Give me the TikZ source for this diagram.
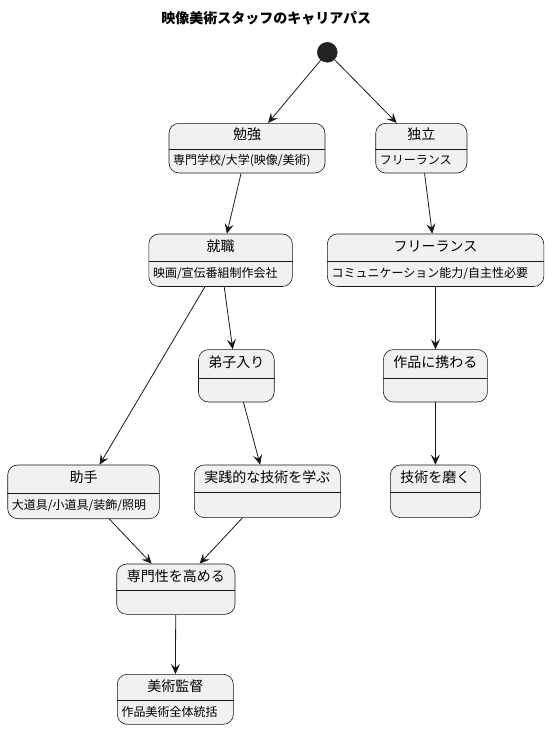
\documentclass[tikz,border=0pt]{standalone}
\usepackage{fontspec}
\setmainfont{Noto Sans CJK JP}
\usetikzlibrary{arrows.meta,fit}
\definecolor{stfill}{HTML}{F1F1F1}
\definecolor{stline}{HTML}{181818}
\definecolor{initfill}{HTML}{222222}
\tikzset{
 stbox/.style={draw=stline, fill=stfill, line width=0.6pt, rounded corners=10pt, inner sep=0pt},
 sttitle/.style={font=\fontsize{14}{16}\selectfont, inner sep=0pt, text height=0.88em, text depth=0.12em},
 stdesc/.style={font=\fontsize{12}{14}\selectfont, inner sep=0pt, anchor=west, text height=0.88em, text depth=0.12em},
 sepline/.style={draw=stline, line width=0.6pt},
 trans/.style={draw=stline, line width=0.8pt, -{Stealth[length=10pt,width=9pt,inset=4pt]}},
}
\newcommand\statebox[8]{%
 \node[stbox, fit={(#2,#3) (#4,#6)}] (#1) {};
 \draw[sepline] (#1.west |- 0,#5) -- (#1.east |- 0,#5);
 \node[sttitle] (#1-t) at ({(#2+#4)/2},{(#3+#5)/2}) {#7};
 \node[stdesc] (#1-d) at ({#2+4},{(#5+#6)/2}) {#8};
}
\begin{document}
\begin{tikzpicture}[x=1pt,y=-1pt]
\useasboundingbox (0,0) rectangle (549,729);
\node[font=\bfseries\fontsize{14}{16}\selectfont, inner sep=0pt] (title) at (266.3,18.5) {映像美術スタッフのキャリアパス};
\node[circle, fill=initfill, draw=initfill, minimum size=20pt, inner sep=0pt] (init) at (327.3,52.3) {};
\statebox{benkyo}{169}{123.3}{325}{149}{173}{勉強}{専門学校/大学(映像/美術)}
\statebox{dokuritsu}{375.7}{123.3}{467}{149}{173}{独立}{フリーランス}
\statebox{shushoku}{148.8}{234}{292.4}{261.3}{286.5}{就職}{映画/宣伝番組制作会社}
\statebox{free}{327.4}{234}{543.8}{261.3}{286.5}{フリーランス}{コミュニケーション能力/自主性必要}
\statebox{deshi}{198.5}{349.6}{274.2}{378}{402}{弟子入り}{}
\statebox{sakuhin}{383.4}{349.6}{487.4}{378}{402}{作品に携わる}{}
\statebox{joshu}{7.7}{465}{159.3}{493.3}{518.7}{助手}{大道具/小道具/装飾/照明}
\statebox{jissen}{194.3}{465}{340.3}{492.5}{517.6}{実践的な技術を学ぶ}{}
\statebox{migaku}{390.4}{465}{480.4}{492.5}{517.6}{技術を磨く}{}
\statebox{senmon}{116.7}{564}{235}{590.7}{614.3}{専門性を高める}{}
\statebox{kantoku}{117.3}{674.3}{233.3}{700.7}{724.3}{美術監督}{作品美術全体統括}
\draw[trans] (init) -- (benkyo);
\draw[trans] (init) -- (dokuritsu);
\draw[trans] (benkyo) -- (shushoku);
\draw[trans] (dokuritsu) -- (free);
\draw[trans] (shushoku) -- (joshu);
\draw[trans] (shushoku) -- (deshi);
\draw[trans] (free) -- (sakuhin);
\draw[trans] (deshi) -- (jissen);
\draw[trans] (sakuhin) -- (migaku);
\draw[trans] (joshu) -- (senmon);
\draw[trans] (jissen) -- (senmon);
\draw[trans] (senmon) -- (kantoku);
\end{tikzpicture}
\end{document}
